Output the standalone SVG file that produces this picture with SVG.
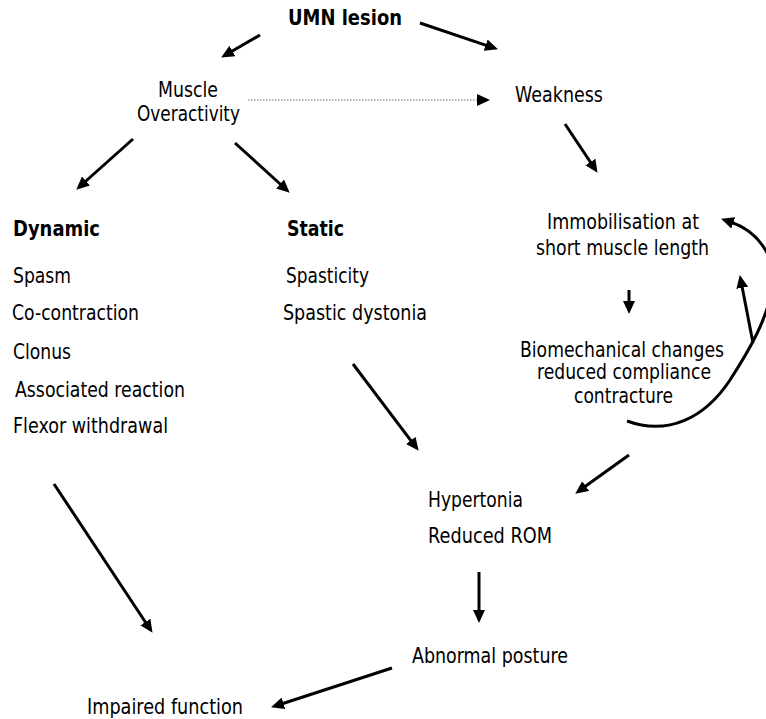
<svg xmlns="http://www.w3.org/2000/svg" width="766" height="719" viewBox="0 0 766 719">
<style>
text{font-family:"DejaVu Sans","Liberation Sans",sans-serif;font-size:21px;fill:#000;}
.b{font-weight:bold;}
.c{fill:none;stroke:#000;stroke-width:3;marker-end:url(#ah);}
.d{fill:none;stroke:#666;stroke-width:1.2;stroke-dasharray:1.5 1.5;marker-end:url(#ah);}
</style>
<defs>
<marker id="ah" markerUnits="userSpaceOnUse" markerWidth="14" markerHeight="12" refX="3" refY="6" orient="auto">
<path d="M0,0 L13,6 L0,12 z" fill="#000"/>
</marker>
</defs>
<rect width="766" height="719" fill="#fff"/>
<g id="connectors">
<line class="c" x1="260" y1="35" x2="229.8" y2="52.5"/>
<line class="c" x1="420" y1="23" x2="488.5" y2="46.1"/>
<line class="d" x1="248" y1="100" x2="480" y2="100"/>
<line class="c" x1="133" y1="139" x2="83.7" y2="183"/>
<line class="c" x1="235" y1="143" x2="282.3" y2="186"/>
<line class="c" x1="565" y1="124" x2="592" y2="164.5"/>
<line class="c" x1="629" y1="290" x2="629" y2="304"/>
<line class="c" x1="353" y1="364" x2="412.6" y2="442.8"/>
<line class="c" x1="629" y1="455" x2="583.3" y2="487.8"/>
<line class="c" x1="54" y1="484" x2="147" y2="624.5"/>
<line class="c" x1="479" y1="572" x2="479" y2="613"/>
<line class="c" x1="392" y1="668" x2="280.6" y2="704.2"/>
<path class="c" d="M627,421 C668,436 705,418 730,380 C752,346 766,320 772,290 C778,260 760,232 730.5,222"/>
<line class="c" x1="753" y1="343" x2="741.7" y2="284.8"/>
</g>
<g id="umn"><text class="b" x="288" y="25" textLength="114" lengthAdjust="spacingAndGlyphs">UMN lesion</text></g>
<g id="overactivity">
<text x="158" y="97" textLength="60" lengthAdjust="spacingAndGlyphs">Muscle</text>
<text x="137" y="121" textLength="103" lengthAdjust="spacingAndGlyphs">Overactivity</text>
</g>
<g id="weakness"><text x="515" y="102" textLength="88" lengthAdjust="spacingAndGlyphs">Weakness</text></g>
<g id="dynamic">
<text class="b" x="13" y="236" textLength="87" lengthAdjust="spacingAndGlyphs">Dynamic</text>
<text x="13" y="283" textLength="58" lengthAdjust="spacingAndGlyphs">Spasm</text>
<text x="12" y="320" textLength="127" lengthAdjust="spacingAndGlyphs">Co-contraction</text>
<text x="13" y="359" textLength="58" lengthAdjust="spacingAndGlyphs">Clonus</text>
<text x="15" y="397" textLength="170" lengthAdjust="spacingAndGlyphs">Associated reaction</text>
<text x="13" y="433" textLength="155" lengthAdjust="spacingAndGlyphs">Flexor withdrawal</text>
</g>
<g id="static">
<text class="b" x="287" y="236" textLength="57" lengthAdjust="spacingAndGlyphs">Static</text>
<text x="286" y="283" textLength="83" lengthAdjust="spacingAndGlyphs">Spasticity</text>
<text x="283" y="320" textLength="144" lengthAdjust="spacingAndGlyphs">Spastic dystonia</text>
</g>
<g id="immobilisation">
<text x="547" y="229" textLength="152" lengthAdjust="spacingAndGlyphs">Immobilisation at</text>
<text x="536" y="255" textLength="173" lengthAdjust="spacingAndGlyphs">short muscle length</text>
</g>
<g id="biomechanical">
<text x="520" y="357" textLength="204" lengthAdjust="spacingAndGlyphs">Biomechanical changes</text>
<text x="537" y="379" textLength="174" lengthAdjust="spacingAndGlyphs">reduced compliance</text>
<text x="574" y="403" textLength="99" lengthAdjust="spacingAndGlyphs">contracture</text>
</g>
<g id="hypertonia">
<text x="428" y="507" textLength="95" lengthAdjust="spacingAndGlyphs">Hypertonia</text>
<text x="428" y="543" textLength="124" lengthAdjust="spacingAndGlyphs">Reduced ROM</text>
</g>
<g id="posture"><text x="412" y="663" textLength="156" lengthAdjust="spacingAndGlyphs">Abnormal posture</text></g>
<g id="function"><text x="87" y="714" textLength="156" lengthAdjust="spacingAndGlyphs">Impaired function</text></g>
</svg>
